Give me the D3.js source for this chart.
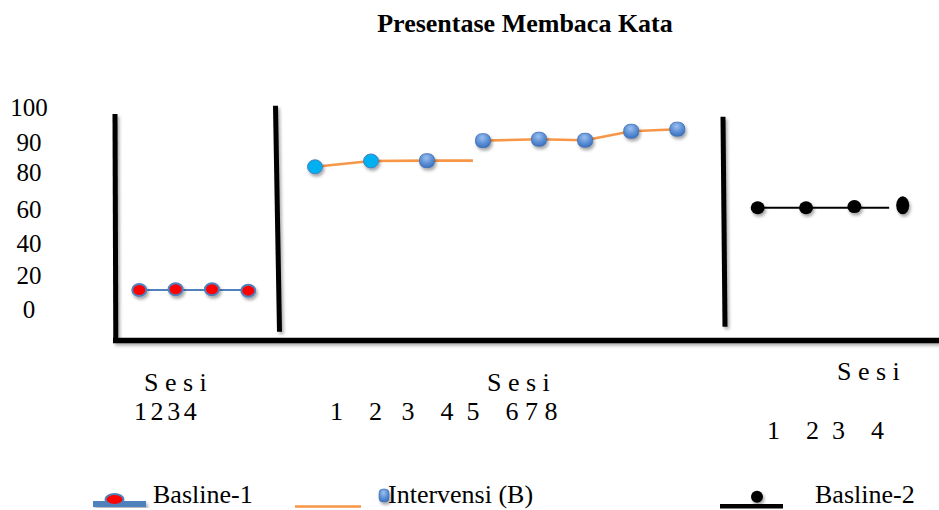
<!DOCTYPE html>
<html>
<head>
<meta charset="utf-8">
<script src="https://cdn.jsdelivr.net/npm/d3@7"></script>
</head>
<body style="margin:0">
<svg id="chart" width="939" height="510"></svg>
<script>
// ---------- DATA ----------
const title = "Presentase Membaca Kata";
const yTickValues = [0, 20, 40, 60, 80, 90, 100];

const baseline1Sessions = [1, 2, 3, 4];
const baseline1Values = [11.2, 11.6, 11.6, 10.8];

const interventionSessions = [1, 2, 3, 4, 5, 6, 7, 8];
const interventionValues = [81.8, 83.7, 83.8, 90.3, 90.7, 90.4, 93.0, 93.6];
const interventionSegments = [[1, 2, 3], [4, 5, 6, 7, 8]];

const baseline2Sessions = [1, 2, 3, 4];
const baseline2Values = [60.8, 60.8, 61.4, 62.1];

const sessionHeader = "S e s i";
const sessionTickText = ["1234", "1    2   3    4  5    6 7 8", "1    2  3    4"];
const legendLabels = ["Basline-1", "Intervensi (B)", "Basline-2"];

// ---------- LAYOUT ----------
const FONT = "'Liberation Serif'";
// warm up the local font
(function () {
  const c = document.createElement("canvas").getContext("2d");
  ["", "bold "].forEach(w => { c.font = w + "26px " + FONT; c.measureText(title + " 0123456789"); });
})();
const keepSpaces = s => s.replace(/ /g, "\u00a0");

const svg = d3.select("#chart");
const defs = svg.append("defs");

const sh = defs.append("filter").attr("id", "shadow").attr("x", "-50%").attr("y", "-50%").attr("width", "200%").attr("height", "200%");
sh.append("feDropShadow").attr("dx", 1.5).attr("dy", 2.5).attr("stdDeviation", 1.6).attr("flood-color", "#000").attr("flood-opacity", 0.35);
const lsh = defs.append("filter").attr("id", "lineShadow").attr("x", "-10%").attr("y", "-10%").attr("width", "120%").attr("height", "120%");
lsh.append("feDropShadow").attr("dx", 2).attr("dy", 2.5).attr("stdDeviation", 1.8).attr("flood-color", "#000").attr("flood-opacity", 0.3);

const grad = defs.append("radialGradient").attr("id", "blueGrad").attr("cx", "45%").attr("cy", "30%").attr("r", "75%");
grad.append("stop").attr("offset", "0%").attr("stop-color", "#9cc0ee");
grad.append("stop").attr("offset", "55%").attr("stop-color", "#5b8fd6");
grad.append("stop").attr("offset", "100%").attr("stop-color", "#3a6cb8");

const y = d3.scaleLinear().domain(yTickValues).range([309, 275, 243.3, 209.2, 172.3, 141.7, 107]);
const x1 = d3.scaleLinear().domain([1, 4]).range([139.3, 248.3]);
const x2 = d3.scaleLinear().domain([1, 5, 8]).range([315, 539, 677.3]);
const x3 = d3.scaleLinear().domain([1, 4]).range([757.7, 902.7]);

function styleText(sel, size, weight) {
  return sel.style("font-family", FONT).attr("font-size", size)
    .attr("font-weight", weight || "normal").attr("fill", "#000");
}

// Title
styleText(svg.append("text").attr("x", 525).attr("y", 32).attr("text-anchor", "middle").text(title), 26, "bold");

// Y axis labels (no axis line)
const yAxis = d3.axisLeft(y).tickValues(yTickValues).tickSize(0).tickPadding(0);
const yg = svg.append("g").attr("transform", "translate(29,0)").call(yAxis);
yg.attr("font-family", null).attr("font-size", null);
yg.select(".domain").remove();
styleText(yg.selectAll("text").attr("x", 0).attr("text-anchor", "middle").attr("dy", "0.34em"), 25);

// Phase frame lines
const frame = svg.append("g").attr("stroke", "#000").attr("filter", "url(#lineShadow)").attr("stroke-linecap", "butt");
frame.append("line").attr("x1", 115).attr("y1", 114).attr("x2", 115.8).attr("y2", 340).attr("stroke-width", 5);
frame.append("line").attr("x1", 275.5).attr("y1", 105.7).attr("x2", 279.5).attr("y2", 331.7).attr("stroke-width", 5);
frame.append("line").attr("x1", 723).attr("y1", 116.7).attr("x2", 725).attr("y2", 326.7).attr("stroke-width", 5);
frame.append("line").attr("x1", 113).attr("y1", 340.5).attr("x2", 939).attr("y2", 340.5).attr("stroke-width", 5.5);

// Baseline-1
const b1 = baseline1Sessions.map((s, i) => ({ s, v: baseline1Values[i] }));
svg.append("path").datum(b1)
  .attr("d", d3.line().x(d => x1(d.s)).y(d => y(d.v)))
  .attr("fill", "none").attr("stroke", "#4f81bd").attr("stroke-width", 5.5).attr("filter", "url(#lineShadow)");
svg.append("g").selectAll("ellipse").data(b1).join("ellipse")
  .attr("cx", d => x1(d.s)).attr("cy", d => y(d.v)).attr("rx", 7).attr("ry", 6)
  .attr("fill", "#ff0000").attr("stroke", "#4f81bd").attr("stroke-width", 2).attr("filter", "url(#shadow)");

// Intervention
const iv = interventionSessions.map((s, i) => ({ s, v: interventionValues[i] }));
const ivLine = d3.line().x(d => x2(d.s)).y(d => y(d.v));
interventionSegments.forEach((seg, k) => {
  const pts = seg.map(s => iv.find(d => d.s === s));
  if (k === 0) pts.push({ s: 3.82, v: pts[pts.length - 1].v });
  svg.append("path").datum(pts).attr("d", ivLine)
    .attr("fill", "none").attr("stroke", "#f79646").attr("stroke-width", 2.6);
});
const ivg = svg.append("g").attr("filter", "url(#shadow)");
ivg.selectAll("ellipse").data(iv.filter(d => d.s <= 2)).join("ellipse")
  .attr("cx", d => x2(d.s)).attr("cy", d => y(d.v)).attr("rx", 7.5).attr("ry", 7)
  .attr("fill", "#00b0f0").attr("stroke", "#4a7ebb").attr("stroke-width", 1);
ivg.selectAll("rect").data(iv.filter(d => d.s > 2)).join("rect")
  .attr("x", d => x2(d.s) - 7.5).attr("y", d => y(d.v) - 7).attr("width", 15).attr("height", 14)
  .attr("rx", 6).attr("ry", 6)
  .attr("fill", "url(#blueGrad)").attr("stroke", "#3f70b0").attr("stroke-width", 0.8);

// Baseline-2
const b2 = baseline2Sessions.map((s, i) => ({ s, v: baseline2Values[i] }));
const b2line = b2.slice(0, 3).concat([{ s: 3.72, v: b2[0].v }]);
svg.append("path").datum(b2line)
  .attr("d", d3.line().x(d => x3(d.s)).y(() => y(b2[0].v)))
  .attr("fill", "none").attr("stroke", "#000").attr("stroke-width", 2);
svg.append("g").attr("filter", "url(#shadow)").selectAll("ellipse").data(b2).join("ellipse")
  .attr("cx", d => x3(d.s)).attr("cy", d => y(d.v))
  .attr("rx", (d, i) => i === 3 ? 6.5 : 7).attr("ry", (d, i) => i === 3 ? 9 : 6.5)
  .attr("fill", "#000");

// Session labels
const sl = svg.append("g");
styleText(sl.append("text").attr("x", 144).attr("y", 391).text(keepSpaces(sessionHeader)), 26);
styleText(sl.append("text").attr("x", 134).attr("y", 420).attr("letter-spacing", 3.6).text(sessionTickText[0]), 26);
styleText(sl.append("text").attr("x", 487).attr("y", 391).text(keepSpaces(sessionHeader)), 26);
styleText(sl.append("text").attr("x", 330).attr("y", 419.5).text(keepSpaces(sessionTickText[1])), 26);
styleText(sl.append("text").attr("x", 837).attr("y", 380).text(keepSpaces(sessionHeader)), 26);
styleText(sl.append("text").attr("x", 767).attr("y", 438.5).text(keepSpaces(sessionTickText[2])), 26);

// Legend
const lg = svg.append("g");
lg.append("rect").attr("x", 93).attr("y", 501).attr("width", 53).attr("height", 6).attr("fill", "#4f81bd").attr("filter", "url(#lineShadow)");
lg.append("ellipse").attr("cx", 114.5).attr("cy", 499.5).attr("rx", 9).attr("ry", 5.5)
  .attr("fill", "#ff0000").attr("stroke", "#4f81bd").attr("stroke-width", 2);
styleText(lg.append("text").attr("x", 153).attr("y", 503).text(legendLabels[0]), 26);

lg.append("line").attr("x1", 295).attr("x2", 361).attr("y1", 506.5).attr("y2", 506.5).attr("stroke", "#f79646").attr("stroke-width", 2.5);
lg.append("rect").attr("x", 379).attr("y", 489).attr("width", 10).attr("height", 13).attr("rx", 4)
  .attr("fill", "url(#blueGrad)").attr("stroke", "#3f70b0").attr("stroke-width", 0.6).attr("filter", "url(#shadow)");
styleText(lg.append("text").attr("x", 388).attr("y", 503).text(legendLabels[1]), 26);

lg.append("rect").attr("x", 720).attr("y", 504).attr("width", 63).attr("height", 4.5).attr("fill", "#000");
lg.append("circle").attr("cx", 757).attr("cy", 496.7).attr("r", 6).attr("fill", "#000").attr("filter", "url(#shadow)");
styleText(lg.append("text").attr("x", 815).attr("y", 503).text(legendLabels[2]), 26);
</script>
</body>
</html>
